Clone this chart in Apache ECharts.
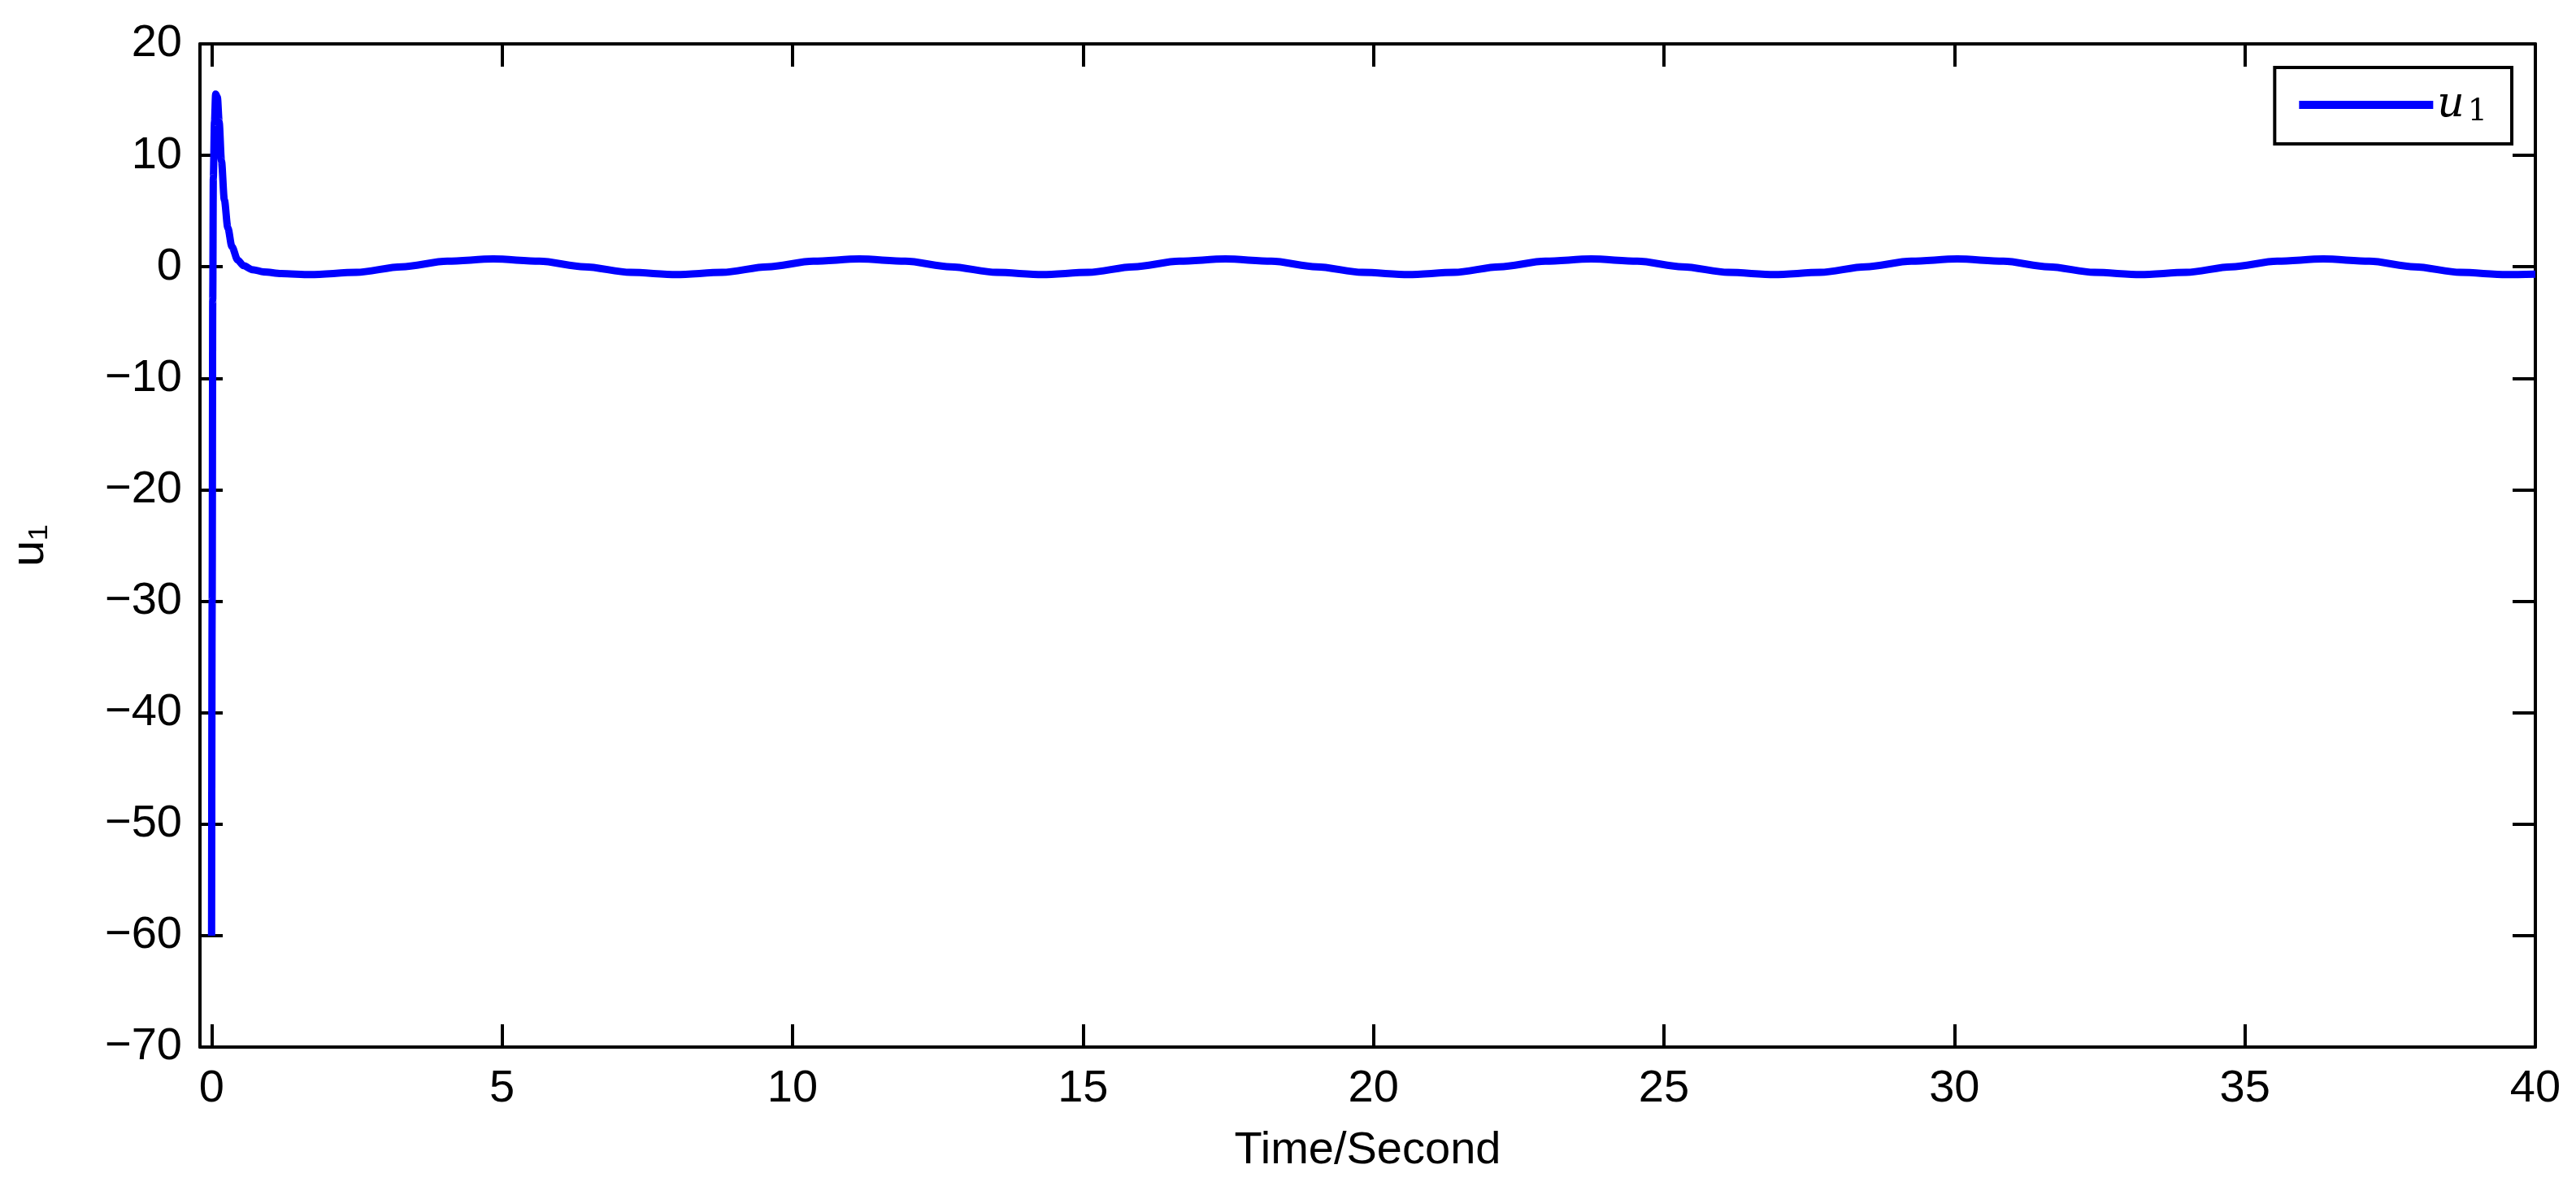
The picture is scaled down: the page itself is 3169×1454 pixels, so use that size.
<!DOCTYPE html>
<html>
<head>
<meta charset="utf-8">
<script src="https://cdn.jsdelivr.net/npm/echarts@6/dist/echarts.min.js"></script>
<style>html,body{margin:0;padding:0;background:#fff}#chart{width:3169px;height:1454px}</style>
</head>
<body>
<div id="chart"></div>
<script>
// time (s) and control input u1
var times = [0, 0.01, 0.02, 0.03, 0.05, 0.07, 0.1, 0.13, 0.17, 0.22, 0.28, 0.35, 0.45, 0.55, 0.7, 0.9, 1.2,
  1.7, 2.49, 3.27, 4.06, 4.85, 5.64, 6.42, 7.21, 8.0, 8.79, 9.57, 10.36, 11.15, 11.94, 12.72, 13.51,
  14.3, 15.09, 15.87, 16.66, 17.45, 18.24, 19.02, 19.81, 20.6, 21.39, 22.17, 22.96, 23.75, 24.54,
  25.32, 26.11, 26.9, 27.69, 28.47, 29.26, 30.05, 30.84, 31.62, 32.41, 33.2, 33.99, 34.77, 35.56,
  36.35, 37.14, 37.92, 38.71, 39.5, 40];
var u1 = [-60, -30, -3, 8, 13, 15.5, 15.2, 13, 9.5, 6, 3.5, 1.8, 0.6, 0.1, -0.25, -0.45, -0.6,
  -0.7, -0.5, 0, 0.5, 0.7, 0.5, 0, -0.5, -0.7, -0.5, 0, 0.5, 0.7, 0.5, 0, -0.5,
  -0.7, -0.5, 0, 0.5, 0.7, 0.5, 0, -0.5, -0.7, -0.5, 0, 0.5, 0.7, 0.5,
  0, -0.5, -0.7, -0.5, 0, 0.5, 0.7, 0.5, 0, -0.5, -0.7, -0.5, 0, 0.5,
  0.7, 0.5, 0, -0.5, -0.7, -0.65];
var xTicks = [0, 5, 10, 15, 20, 25, 30, 35, 40];
var yTicks = [-70, -60, -50, -40, -30, -20, -10, 0, 10, 20];

var font = 'Liberation Sans, Arial, sans-serif';
var dom = document.getElementById('chart');
var myChart = echarts.init(dom, null, {renderer: 'canvas'});

var line = {onZero: false, lineStyle: {color: '#000', width: 4}};
var tick = {inside: true, length: 28, lineStyle: {color: '#000', width: 4}};

var option = {
  animation: false,
  backgroundColor: '#fff',
  grid: {left: 240, right: 50, top: 54, bottom: 166},
  legend: {
    data: ['u1'],
    right: 79, top: 83,
    padding: [20, 30, 20, 30],
    itemWidth: 165, itemHeight: 10, itemGap: 20,
    borderColor: '#000', borderWidth: 4,
    backgroundColor: '#fff',
    icon: 'rect',
    formatter: function () { return '{u|u}{s|1}'; },
    textStyle: {
      rich: {
        u: {fontFamily: 'DejaVu Serif', fontStyle: 'italic', fontSize: 52, color: '#000'},
        s: {fontFamily: 'DejaVu Serif', fontSize: 38, color: '#000', verticalAlign: 'bottom', padding: [18, 0, 0, 4]}
      }
    }
  },
  xAxis: [{
    type: 'value', min: -0.2, max: 40,
    name: 'Time/Second', nameLocation: 'middle', nameGap: 100,
    nameTextStyle: {fontFamily: font, fontSize: 56, color: '#000'},
    axisLine: line, axisTick: Object.assign({customValues: xTicks}, tick),
    axisLabel: {customValues: xTicks, fontFamily: font, fontSize: 56, color: '#000', margin: 24},
    splitLine: {show: false}
  }, {
    type: 'value', min: -0.2, max: 40, position: 'top',
    axisLine: line, axisTick: Object.assign({customValues: xTicks}, tick),
    axisLabel: {show: false}, splitLine: {show: false}
  }],
  yAxis: [{
    type: 'value', min: -70, max: 20, interval: 10,
    name: 'u\u2081', nameLocation: 'middle', nameGap: 180,
    nameTextStyle: {fontFamily: font, fontSize: 58, color: '#000'},
    axisLine: line, axisTick: tick,
    axisLabel: {fontFamily: font, fontSize: 56, color: '#000', margin: 22,
      formatter: function (v) { return String(v).replace('-', '\u2212'); }},
    splitLine: {show: false}
  }, {
    type: 'value', min: -70, max: 20, interval: 10, position: 'right',
    axisLine: line, axisTick: tick,
    axisLabel: {show: false}, splitLine: {show: false}
  }],
  series: [{
    name: 'u1', type: 'line',
    data: times.map(function (t, i) { return [t, u1[i]]; }),
    showSymbol: false, smooth: 0.3, smoothMonotone: 'x',
    lineStyle: {color: '#0000ff', width: 9},
    itemStyle: {color: '#0000ff'}
  }]
};

myChart.setOption(option);
window.addEventListener('resize', myChart.resize);
</script>
</body>
</html>
